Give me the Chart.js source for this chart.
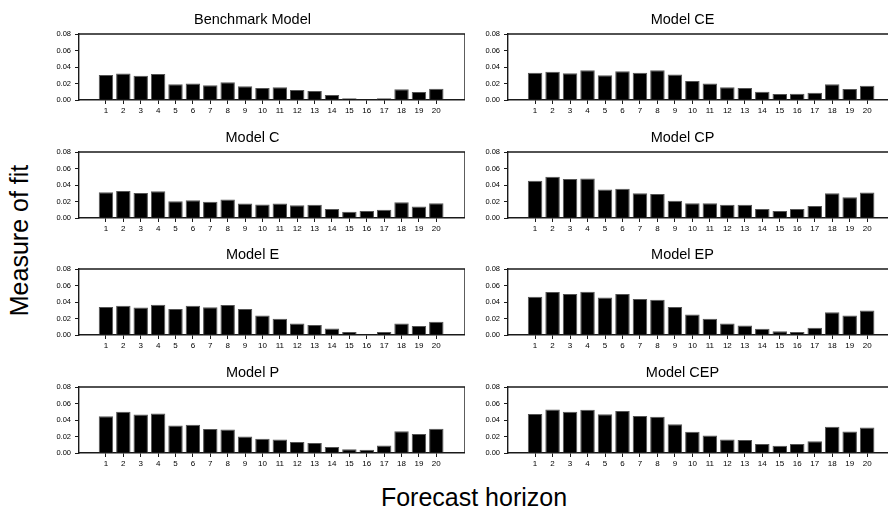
<!DOCTYPE html>
<html>
<head>
<meta charset="utf-8">
<script src="https://cdn.jsdelivr.net/npm/chart.js@4.4.0/dist/chart.umd.min.js"></script>
<style>
    html, body { margin: 0; padding: 0; background: #fff; }
    body { width: 888px; height: 510px; position: relative; overflow: hidden; font-family: 'Liberation Sans', Arial, sans-serif; color: #000; }
    .panel { position: absolute; }
    .panel canvas { display: block; }
    #yTitle { position: absolute; left: -80.6px; top: 227.5px; width: 200px; height: 25px; line-height: 25px; font-size: 25px; text-align: center; white-space: nowrap; transform: rotate(-90deg); }
    #xTitle { position: absolute; left: 374px; top: 485px; width: 200px; height: 25px; line-height: 25px; font-size: 25px; text-align: center; white-space: nowrap; }
</style>
</head>
<body>
<div id="yTitle">Measure of fit</div>
<div id="xTitle">Forecast horizon</div>
<script>
// forecast horizons (x categories)
const horizons = [1, 2, 3, 4, 5, 6, 7, 8, 9, 10, 11, 12, 13, 14, 15, 16, 17, 18, 19, 20];
const yLabels = ['0.00', '0.02', '0.04', '0.06', '0.08'];

const benchmark = [0.0303, 0.0320, 0.0295, 0.0315, 0.0190, 0.0200, 0.0180, 0.0214, 0.0166, 0.0145, 0.0154, 0.0120, 0.0110, 0.0060, 0.0020, 0.0000, 0.0020, 0.0130, 0.0097, 0.0137];
const modelCE = [0.0330, 0.0343, 0.0323, 0.0360, 0.0300, 0.0350, 0.0330, 0.0360, 0.0310, 0.0230, 0.0200, 0.0154, 0.0145, 0.0100, 0.0073, 0.0077, 0.0089, 0.0190, 0.0133, 0.0174];
const modelC = [0.0312, 0.0328, 0.0304, 0.0324, 0.0204, 0.0216, 0.0196, 0.0224, 0.0176, 0.0164, 0.0176, 0.0156, 0.0160, 0.0108, 0.0076, 0.0084, 0.0100, 0.0192, 0.0140, 0.0180];
const modelCP = [0.0452, 0.0500, 0.0472, 0.0480, 0.0344, 0.0356, 0.0300, 0.0292, 0.0208, 0.0180, 0.0180, 0.0160, 0.0160, 0.0108, 0.0084, 0.0108, 0.0144, 0.0300, 0.0252, 0.0308];
const modelE = [0.0340, 0.0356, 0.0332, 0.0368, 0.0316, 0.0356, 0.0336, 0.0364, 0.0316, 0.0236, 0.0196, 0.0140, 0.0120, 0.0080, 0.0036, 0.0000, 0.0036, 0.0140, 0.0108, 0.0160];
const modelEP = [0.0464, 0.0520, 0.0496, 0.0524, 0.0456, 0.0496, 0.0436, 0.0428, 0.0340, 0.0248, 0.0196, 0.0140, 0.0116, 0.0076, 0.0044, 0.0036, 0.0088, 0.0276, 0.0236, 0.0296];
const modelP = [0.0446, 0.0500, 0.0466, 0.0478, 0.0334, 0.0342, 0.0290, 0.0285, 0.0200, 0.0173, 0.0165, 0.0133, 0.0120, 0.0072, 0.0044, 0.0040, 0.0092, 0.0265, 0.0229, 0.0294];
const modelCEP = [0.0474, 0.0527, 0.0500, 0.0523, 0.0470, 0.0510, 0.0450, 0.0438, 0.0350, 0.0257, 0.0213, 0.0165, 0.0157, 0.0109, 0.0088, 0.0109, 0.0141, 0.0318, 0.0261, 0.0310];

const FONT = "'Liberation Sans', Arial, sans-serif";
const LINE = '#1a1a1a';

// panel layout: column left edge of plot, row top of plot
const plotTops = [34, 152, 269, 387];
const plotH = 66;
const titleH = 22;
const xAxisH = 20;
const yAxisW = 39;

const panels = [
    { title: 'Benchmark Model', values: benchmark, col: 0, row: 0 },
    { title: 'Model CE', values: modelCE, col: 1, row: 0 },
    { title: 'Model C', values: modelC, col: 0, row: 1 },
    { title: 'Model CP', values: modelCP, col: 1, row: 1 },
    { title: 'Model E', values: modelE, col: 0, row: 2 },
    { title: 'Model EP', values: modelEP, col: 1, row: 2 },
    { title: 'Model P', values: modelP, col: 0, row: 3 },
    { title: 'Model CEP', values: modelCEP, col: 1, row: 3 }
];
const colLeft = [79, 508];   // plot left
const colRight = [465, 896]; // plot right (right column runs off the page)

// top and right border of the plot box
const framePlugin = {
    id: 'frame',
    afterDatasetsDraw(chart) {
        const { ctx, chartArea } = chart;
        ctx.save();
        ctx.strokeStyle = LINE;
        ctx.lineWidth = 1.4;
        ctx.beginPath();
        ctx.moveTo(chartArea.left, chartArea.top);
        ctx.lineTo(chartArea.right, chartArea.top);
        ctx.lineTo(chartArea.right, chartArea.bottom);
        ctx.stroke();
        ctx.restore();
    }
};

function createChart(p) {
    const div = document.createElement('div');
    div.className = 'panel';
    const left = colLeft[p.col] - yAxisW;
    const top = plotTops[p.row] - titleH;
    const w = colRight[p.col] - left;
    const h = titleH + plotH + xAxisH;
    div.style.left = left + 'px';
    div.style.top = top + 'px';
    const canvas = document.createElement('canvas');
    canvas.width = w;
    canvas.height = h;
    div.appendChild(canvas);
    document.body.appendChild(div);

    return new Chart(canvas.getContext('2d'), {
        type: 'bar',
        data: {
            labels: horizons,
            datasets: [{
                data: p.values,
                backgroundColor: '#000',
                borderColor: '#555',
                borderWidth: 1,
                barPercentage: 0.83,
                categoryPercentage: 1
            }]
        },
        options: {
            responsive: false,
            animation: false,
            layout: { padding: 0 },
            plugins: {
                legend: { display: false },
                tooltip: { enabled: false },
                title: {
                    display: true,
                    text: p.title,
                    color: '#000',
                    font: { family: FONT, size: 14.5, weight: 'normal', lineHeight: '16px' },
                    padding: { top: 0, bottom: 6 }
                }
            },
            scales: {
                x: {
                    type: 'linear',
                    offset: false,
                    min: -0.55,
                    max: 21.65,
                    afterBuildTicks: (s) => { s.ticks = horizons.map(v => ({ value: v })); },
                    afterFit: (s) => { s.height = xAxisH; },
                    grid: { offset: false, drawOnChartArea: false, drawTicks: true, tickLength: 4, color: LINE },
                    border: { color: LINE, width: 1.4 },
                    ticks: { autoSkip: false, maxRotation: 0, padding: 2, color: '#000', font: { family: FONT, size: 8 } }
                },
                y: {
                    min: 0,
                    max: 0.08,
                    afterFit: (s) => { s.width = yAxisW; },
                    grid: { drawOnChartArea: false, drawTicks: true, tickLength: 4, color: LINE },
                    border: { color: LINE, width: 1.4 },
                    ticks: {
                        stepSize: 0.01,
                        padding: 4,
                        color: '#000',
                        font: { family: FONT, size: 7.5 },
                        callback: (v) => yLabels.includes(v.toFixed(2)) ? v.toFixed(2) : ''
                    }
                }
            }
        },
        plugins: [framePlugin]
    });
}

panels.forEach(createChart);
</script>
</body>
</html>
